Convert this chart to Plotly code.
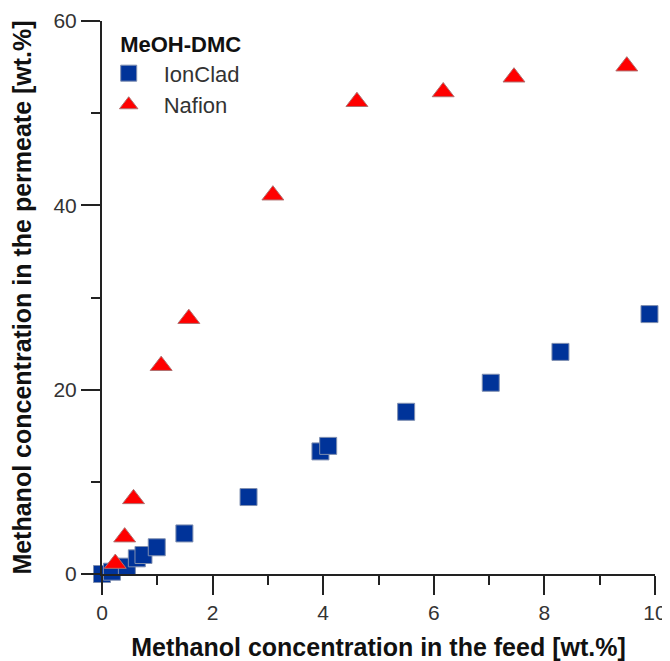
import plotly.graph_objects as go

# IonClad (squares)
ionclad_x = [0.0, 0.18, 0.45, 0.63, 0.75, 0.99, 1.49, 2.65, 3.95, 4.09, 5.50, 7.03, 8.29, 9.90]
ionclad_y = [0.0, 0.25, 0.8, 1.7, 2.06, 2.9, 4.4, 8.35, 13.3, 13.9, 17.6, 20.75, 24.1, 28.2]

# Nafion (triangles)
nafion_x = [0.24, 0.41, 0.57, 1.07, 1.57, 3.09, 4.61, 6.17, 7.45, 9.49]
nafion_y = [1.13, 4.0, 8.15, 22.6, 27.7, 41.1, 51.24, 52.3, 53.9, 55.1]

x_ticks = [0, 2, 4, 6, 8, 10]
y_ticks = [0, 20, 40, 60]

FONT = "Liberation Sans, Arial, sans-serif"
AX = "#222222"

fig = go.Figure()
fig.add_trace(go.Scatter(
    x=ionclad_x, y=ionclad_y, mode="markers", name="IonClad", cliponaxis=False,
    marker=dict(symbol="square", size=17, color="#003399",
                line=dict(color="#7f8fb0", width=1)),
))
fig.add_trace(go.Scatter(
    x=nafion_x, y=nafion_y, mode="markers", name="Nafion", cliponaxis=False,
    marker=dict(symbol="triangle-up", size=19, color="#ff0000",
                line=dict(color="#b07070", width=1)),
))

axis_common = dict(
    showgrid=False, zeroline=False, showline=True, linecolor=AX, linewidth=2,
    ticks="outside", ticklen=19, tickwidth=2, tickcolor=AX, automargin=False,
    tickfont=dict(family=FONT, size=21, color="#333333"),
)

fig.update_xaxes(
    range=[0, 10], tickvals=x_ticks, ticktext=[str(v) for v in x_ticks],
    minor=dict(dtick=1, ticklen=9, tickwidth=2, tickcolor=AX, ticks="outside", showgrid=False),
    title=dict(text="<b>Methanol concentration in the feed [wt.%]</b>",
               font=dict(family=FONT, size=25, color="#111111"), standoff=15),
    **axis_common,
)
fig.update_yaxes(
    range=[0, 60], tickvals=y_ticks, ticktext=[str(v) for v in y_ticks],
    minor=dict(dtick=10, ticklen=9, tickwidth=2, tickcolor=AX, ticks="outside", showgrid=False),
    title=dict(text="<b>Methanol concentration in the permeate [wt.%]</b>",
               font=dict(family=FONT, size=25, color="#111111"), standoff=17),
    **axis_common,
)

# page body has an 8 px margin, so the figure is sized to fit inside the window
fig.update_layout(
    width=662, height=653,
    margin=dict(l=94, r=15, t=13, b=87),
    paper_bgcolor="white", plot_bgcolor="white",
    showlegend=True,
    legend=dict(
        x=-0.015, y=0.995, xanchor="left", yanchor="top",
        bgcolor="rgba(0,0,0,0)",
        title=dict(text="&nbsp;&nbsp;&nbsp;&nbsp;<b>MeOH-DMC</b>",
                   font=dict(family=FONT, size=22, color="#111111")),
        font=dict(family=FONT, size=22, color="#333333"),
        itemwidth=60,
    ),
)

fig.write_html("out.html")
